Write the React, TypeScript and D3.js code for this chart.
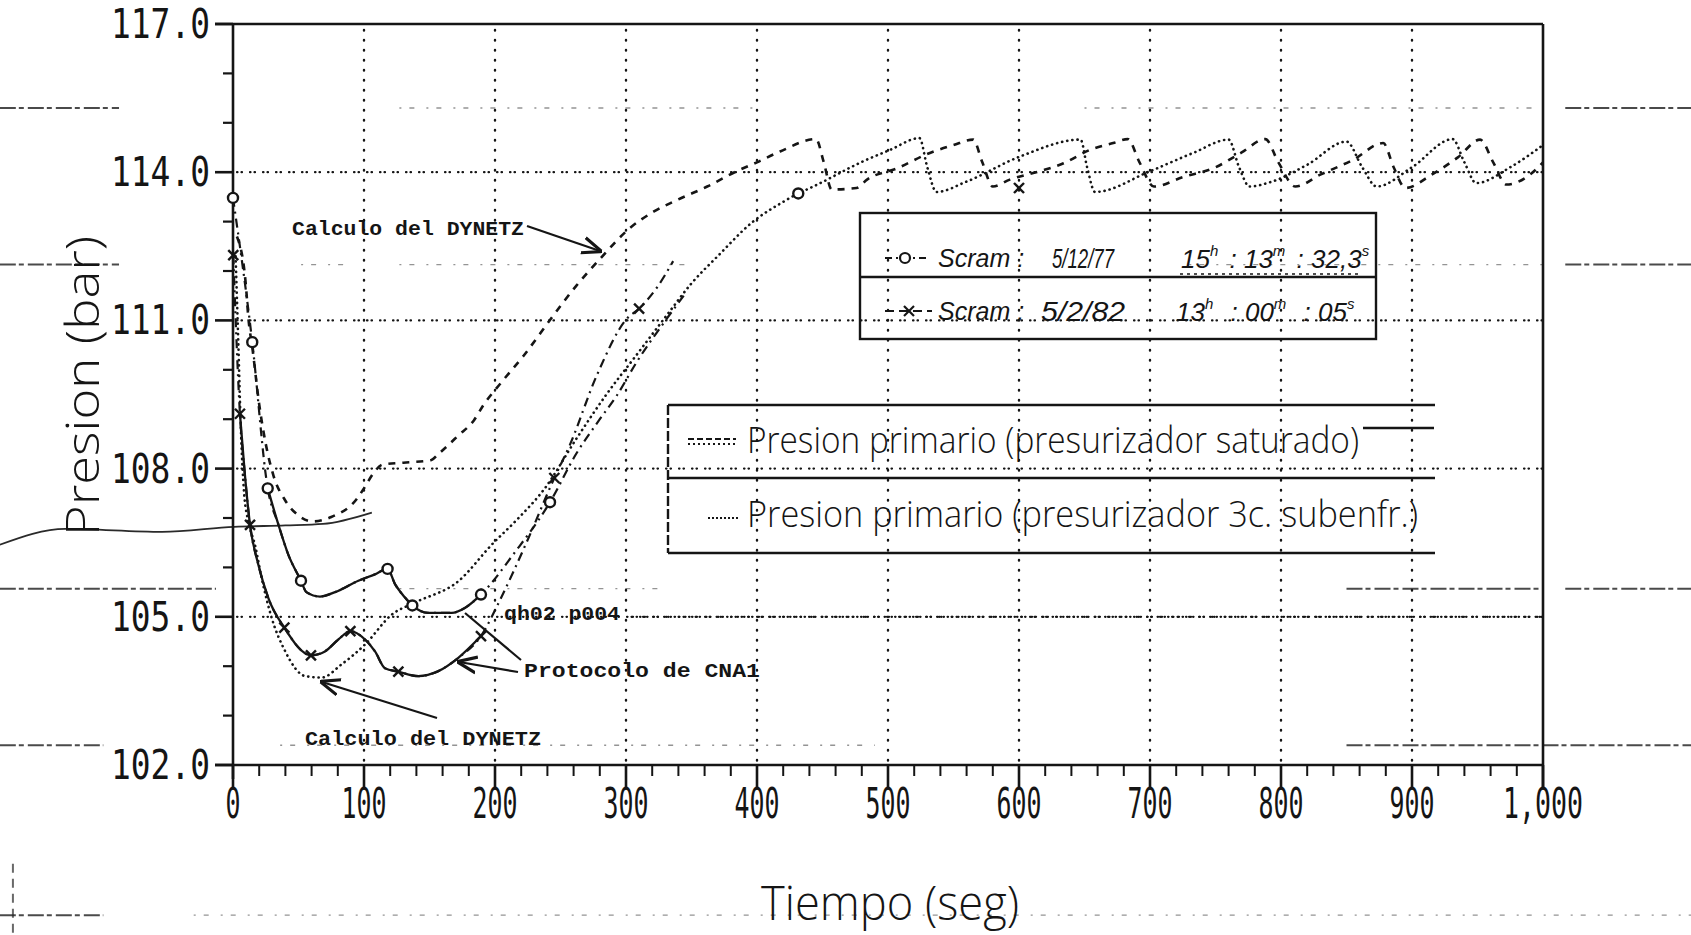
import React, { useEffect } from 'react';
import * as d3 from 'd3';

const W = 1691;
const H = 935;
const ink = '#151515';

// ---- axis ticks ----
const yTickValues = [102, 105, 108, 111, 114, 117];
const yTickLabels = ['102.0', '105.0', '108.0', '111.0', '114.0', '117.0'];
const xTickValues = [0, 100, 200, 300, 400, 500, 600, 700, 800, 900, 1000];
const xTickLabels = ['0', '100', '200', '300', '400', '500', '600', '700', '800', '900', '1,000'];

// ---- Calculo del DYNETZ, presurizador saturado (dashed) ----
const satT = [3, 9.7, 11.7, 15, 20, 25, 31, 40, 50, 61, 75, 94, 100, 107, 114, 130, 151, 157, 172, 184, 191, 205, 222, 244.5, 262, 280, 303, 321, 340, 362, 384.5, 400, 417.6, 445, 451, 457, 476, 484, 507, 532, 550, 565, 572, 580, 593, 616, 634, 654, 672, 683, 692, 703, 725, 750, 770, 788, 798, 811, 830, 855, 878, 886, 895, 915, 935, 952, 962, 972, 990, 1000];
const satP = [112.7, 111.75, 111.06, 110.4, 109.3, 108.5, 107.85, 107.35, 107.05, 106.93, 107.02, 107.37, 107.6, 107.9, 108.08, 108.12, 108.17, 108.3, 108.67, 108.98, 109.28, 109.75, 110.29, 111.1, 111.7, 112.24, 112.87, 113.2, 113.45, 113.71, 114.02, 114.2, 114.42, 114.67, 114.2, 113.65, 113.68, 113.85, 114.08, 114.39, 114.55, 114.66, 114.2, 113.71, 113.85, 114.02, 114.18, 114.45, 114.59, 114.67, 114.2, 113.71, 113.9, 114.1, 114.4, 114.67, 114.2, 113.71, 113.95, 114.25, 114.59, 114.1, 113.68, 113.95, 114.3, 114.66, 114.2, 113.75, 113.95, 114.2];

// ---- Calculo del DYNETZ, presurizador 3c. subenfr. (dotted) ----
const subT = [2, 4, 6, 8.5, 12, 16.8, 21.9, 29.5, 39.7, 55, 67.7, 83, 100.8, 121, 140, 172, 197.5, 218, 238, 262, 285, 308, 331, 350, 370, 397, 420, 431.5, 443, 481, 501.5, 524, 530, 537, 560, 601, 647, 652, 658, 700, 733, 760, 768, 776, 792, 820, 850, 862, 873, 900, 931, 940, 949, 975, 1000];
const subP = [112.3, 110.6, 108.8, 107.5, 106.9, 106.45, 105.78, 104.98, 104.31, 103.8, 103.77, 104.04, 104.44, 105.04, 105.3, 105.72, 106.46, 107.0, 107.6, 108.6, 109.5, 110.3, 111.1, 111.75, 112.3, 113.0, 113.4, 113.57, 113.71, 114.22, 114.45, 114.69, 114.1, 113.6, 113.81, 114.32, 114.66, 114.1, 113.6, 114.02, 114.39, 114.66, 114.1, 113.71, 113.8, 114.15, 114.62, 114.1, 113.71, 114.1, 114.67, 114.2, 113.78, 114.1, 114.55];

// ---- Protocolo CNA1, Scram 5/12/77 (circles) ----
const c77T = [0, 14.7, 26.5, 34.6, 42.2, 51.9, 56, 66.4, 77.9, 95.7, 108.4, 118, 123.7, 131.3, 136.9, 149, 167, 177, 189.3, 215, 242, 262, 280, 293, 308, 331, 344];
const c77P = [113.48, 110.56, 107.6, 106.87, 106.26, 105.73, 105.5, 105.41, 105.5, 105.73, 105.86, 105.97, 105.66, 105.39, 105.23, 105.08, 105.08, 105.18, 105.45, 106.3, 107.32, 108.3, 109.0, 109.48, 110.15, 111.03, 111.5];
const c77SolidFrom = 26.5;
const c77SolidTo = 189.3;
const c77MarkT = [0, 14.7, 26.5, 51.9, 118, 136.9, 189.3, 242, 431.5];
const c77MarkP = [113.48, 110.56, 107.6, 105.73, 105.97, 105.23, 105.45, 107.32, 113.57];

// ---- Protocolo CNA1, Scram 5/2/82 (crosses) ----
const x82T = [0.2, 5.3, 9, 13, 19.3, 27, 39.2, 59.5, 70.2, 80.4, 89.6, 100.8, 108.4, 116, 126.2, 141.5, 156.7, 172, 189.3, 204, 224, 245.3, 257, 277.6, 300.5, 310, 324, 336];
const x82P = [112.32, 109.11, 107.9, 106.86, 106.06, 105.38, 104.78, 104.22, 104.3, 104.54, 104.71, 104.54, 104.3, 103.96, 103.89, 103.8, 103.9, 104.17, 104.61, 105.35, 106.5, 107.81, 108.47, 109.88, 111.03, 111.24, 111.68, 112.2];
const x82SolidFrom = 5.3;
const x82SolidTo = 189.3;
const x82MarkT = [0.2, 5.3, 13, 39.2, 59.5, 89.6, 126.2, 189.3, 245.3, 310, 600];
const x82MarkP = [112.32, 109.11, 106.86, 104.78, 104.22, 104.71, 103.89, 104.61, 107.81, 111.24, 113.68];

// ---- scram legend texts ----
const scramDates = ['5/12/77', '5/2/82'];
const scramTimes = [
  [['15', 'h'], ['13', 'm'], ['32,3', 's']],
  [['13', 'h'], ['00', 'm'], ['05', 's']],
];

// ---- stray strokes of the scanned page (time, pressure units) ----
const strayT = [-178, -128, -54, 0.8, 40, 68.7, 106];
const strayP = [106.46, 106.78, 106.72, 106.82, 106.85, 106.88, 107.11];
const bleedRows = [
  [115.3, -178, -87, 1], [115.3, 127, 398, 0], [115.3, 650, 1000, 0], [115.3, 1017, 1128, 1],
  [112.13, -178, -87, 1], [112.13, 52, 93, 0], [112.13, 127, 350, 0], [112.13, 730, 1000, 0], [112.13, 1017, 1128, 1],
  [105.57, -178, -13, 1], [105.57, 127, 330, 0], [105.57, 850, 1000, 1], [105.57, 1017, 1128, 1],
  [102.4, -178, -99, 1], [102.4, 36, 490, 0], [102.4, 850, 1128, 1],
  [98.96, -178, -99, 1], [98.96, -30, 1128, 0],
];

const plotFont = '"DejaVu Sans Mono", monospace';
const thinFont = '"Open Sans", "DejaVu Sans", sans-serif';
const typeFont = '"Liberation Mono", "DejaVu Sans Mono", monospace';
const handFont = '"Liberation Sans", "DejaVu Sans", sans-serif';

function zip(ts: number[], ps: number[]) {
  return ts.map((t, i) => [t, ps[i]] as [number, number]);
}

export default function App() {
  useEffect(() => {
    document.body.style.margin = '0';
  }, []);

  const x = d3.scaleLinear().domain([0, 1000]).range([233, 1543]);
  const y = d3.scaleLinear().domain([102, 117]).range([765, 24]);

  const line = d3
    .line<[number, number]>()
    .x((d) => x(d[0]))
    .y((d) => y(d[1]))
    .curve(d3.curveMonotoneX);

  const sat = zip(satT, satP);
  const sub = zip(subT, subP);
  const c77 = zip(c77T, c77P);
  const x82 = zip(x82T, x82P);
  const c77Solid = c77.filter((d) => d[0] >= c77SolidFrom && d[0] <= c77SolidTo);
  const x82Solid = x82.filter((d) => d[0] >= x82SolidFrom && d[0] <= x82SolidTo);

  const x0 = x(0);
  const x1 = x(1000);
  const yTop = y(117);
  const yBot = y(102);

  const xMinor = d3.range(0, 1001, 20).filter((v) => v % 100 !== 0);
  const yMinor = d3.range(102, 118, 1).filter((v) => (v - 102) % 3 !== 0);
  const hGrid = [105, 108, 111, 114];
  const vGrid = [100, 200, 300, 400, 500, 600, 700, 800, 900];

  const rowBase = [268, 321];
  const dateX = [1052, 1041];
  const dateLen = [62, 84];
  const timeX = [1181, 1176];
  const timeGap = [4, 10];

  return (
    <svg
      width={W}
      height={H}
      viewBox={`0 0 ${W} ${H}`}
      style={{ position: 'absolute', left: 0, top: 0, display: 'block', background: '#ffffff' }}
    >
      <defs>
        <marker id="arr" viewBox="0 0 10 10" refX="9" refY="5" markerWidth="9" markerHeight="9" orient="auto">
          <path d="M0,1 L10,5 L0,9" fill="none" stroke={ink} strokeWidth="1.6" />
        </marker>
      </defs>
      <rect x={0} y={0} width={W} height={H} fill="#ffffff" />

      {/* bleed-through from the scanned page */}
      <g stroke="#2a2a2a" fill="none">
        {bleedRows.map((r, i) => (
          <line
            key={'b' + i}
            x1={x(r[1])}
            x2={x(r[2])}
            y1={y(r[0])}
            y2={y(r[0])}
            strokeWidth={r[3] ? 2 : 1.3}
            strokeDasharray={r[3] ? '16 3 5 4' : '2 8 5 12'}
            opacity={r[3] ? 0.85 : 0.5}
          />
        ))}
        <line x1={x(-168)} x2={x(-168)} y1={y(100)} y2={H} strokeWidth={2} strokeDasharray="9 6" opacity={0.7} />
        <path d={line(zip(strayT, strayP)) || ''} strokeWidth={1.8} />
      </g>

      {/* dotted grid */}
      <g stroke={ink} fill="none" strokeLinecap="round">
        {vGrid.map((v) => (
          <line key={'vg' + v} x1={x(v)} x2={x(v)} y1={yTop + 6} y2={yBot} strokeWidth={2.4} strokeDasharray="0.5 9.5" />
        ))}
        {hGrid.map((v) => (
          <line key={'hg' + v} x1={x0 + 4} x2={x1} y1={y(v)} y2={y(v)} strokeWidth={2.2} strokeDasharray="0.5 4 0.5 8" />
        ))}
        {/* qh02 p004 reference line */}
        <line x1={x(305)} x2={x1} y1={y(105)} y2={y(105)} strokeWidth={2.2} strokeDasharray="0.5 3.5 0.5 6" />
      </g>

      {/* frame and axes */}
      <g stroke={ink} fill="none" strokeWidth={2.6}>
        <line x1={x0 - 18} x2={x1} y1={yTop} y2={yTop} />
        <line x1={x1} x2={x1} y1={yTop} y2={yBot + 22} />
        <line x1={x0} x2={x0} y1={yTop} y2={yBot + 14} />
        <line x1={x0 - 18} x2={x1} y1={yBot} y2={yBot} />
        {yTickValues.map((v) => (
          <line key={'ytm' + v} x1={x0 - 18} x2={x0} y1={y(v)} y2={y(v)} />
        ))}
        {yMinor.map((v) => (
          <line key={'ytn' + v} x1={x0 - 10} x2={x0} y1={y(v)} y2={y(v)} strokeWidth={2.2} />
        ))}
        {xTickValues.map((v) => (
          <line key={'xtm' + v} x1={x(v)} x2={x(v)} y1={yBot} y2={yBot + 22} />
        ))}
        {xMinor.map((v) => (
          <line key={'xtn' + v} x1={x(v)} x2={x(v)} y1={yBot} y2={yBot + 11} strokeWidth={2} />
        ))}
      </g>

      {/* tick labels */}
      <g fill={ink} fontFamily={plotFont} fontSize={40}>
        {yTickValues.map((v, i) => (
          <text key={'yl' + v} x={210} y={y(v) + 14} textAnchor="end" textLength={99} lengthAdjust="spacingAndGlyphs">
            {yTickLabels[i]}
          </text>
        ))}
      </g>
      <g fill={ink} fontFamily={plotFont} fontSize={42}>
        {xTickValues.map((v, i) => {
          const s = xTickLabels[i];
          const len = s.length === 5 ? 80 : s.length * 15;
          return (
            <text key={'xl' + v} x={x(v) - len / 2} y={818} textLength={len} lengthAdjust="spacingAndGlyphs">
              {s}
            </text>
          );
        })}
      </g>

      {/* axis titles */}
      <text
        transform={`translate(99,386) rotate(-90)`}
        x={-150}
        y={0}
        fill={ink}
        fontFamily={thinFont}
        fontWeight={300}
        fontSize={46}
        textLength={300}
        lengthAdjust="spacingAndGlyphs"
      >
        Presion (bar)
      </text>
      <text x={761} y={920} fill={ink} fontFamily={thinFont} fontWeight={300} fontSize={48} textLength={258} lengthAdjust="spacingAndGlyphs">
        Tiempo (seg)
      </text>

      {/* series */}
      <g fill="none" stroke={ink} strokeLinecap="round">
        <path d={line(sat) || ''} strokeWidth={2.6} strokeDasharray="7 7" strokeLinecap="butt" />
        <path d={line(sub) || ''} strokeWidth={2.6} strokeDasharray="0.2 5" />
        <path d={line(c77) || ''} strokeWidth={2.2} strokeDasharray="9 5 2 5" strokeLinecap="butt" />
        <path d={line(c77Solid) || ''} strokeWidth={2.3} />
        <path d={line(x82) || ''} strokeWidth={2.2} strokeDasharray="9 5 2 5" strokeLinecap="butt" />
        <path d={line(x82Solid) || ''} strokeWidth={2.3} />
      </g>

      {/* markers */}
      <g stroke={ink} strokeWidth={2.4}>
        {c77MarkT.map((t, i) => (
          <circle key={'cm' + i} cx={x(t)} cy={y(c77MarkP[i])} r={5} fill="#ffffff" />
        ))}
        {x82MarkT.map((t, i) => {
          const cx = x(t);
          const cy = y(x82MarkP[i]);
          return (
            <g key={'xm' + i}>
              <line x1={cx - 5} x2={cx + 5} y1={cy - 5} y2={cy + 5} />
              <line x1={cx - 5} x2={cx + 5} y1={cy + 5} y2={cy - 5} />
            </g>
          );
        })}
      </g>

      {/* annotations */}
      <g fill={ink} fontFamily={typeFont} fontSize={21} fontWeight="bold">
        <text x={292} y={235} textLength={232} lengthAdjust="spacingAndGlyphs">Calculo del DYNETZ</text>
        <text x={305} y={745} textLength={236} lengthAdjust="spacingAndGlyphs">Calculo del DYNETZ</text>
        <text x={504} y={620} textLength={116} lengthAdjust="spacingAndGlyphs">qh02 p004</text>
        <text x={524} y={677} textLength={236} lengthAdjust="spacingAndGlyphs">Protocolo de CNA1</text>
      </g>
      <g stroke={ink} strokeWidth={2.2} fill="none">
        <line x1={527} y1={226} x2={600} y2={251} markerEnd="url(#arr)" />
        <line x1={437} y1={718} x2={322} y2={682} markerEnd="url(#arr)" />
        <line x1={521} y1={660} x2={465} y2={613} />
        <line x1={518} y1={672} x2={459} y2={662} markerEnd="url(#arr)" />
      </g>

      {/* legend: scram dates */}
      <g stroke={ink} fill="none" strokeWidth={2.4}>
        <rect x={860} y={213} width={516} height={126} />
        <line x1={860} x2={1376} y1={277} y2={277} />
      </g>
      <g stroke={ink} strokeWidth={2.2} fill="none">
        <line x1={885} x2={928} y1={258} y2={258} strokeDasharray="7 4 2 4" />
        <circle cx={905} cy={258} r={5} fill="#ffffff" />
        <line x1={885} x2={932} y1={311} y2={311} strokeDasharray="9 5" />
        <line x1={904} x2={914} y1={306} y2={316} />
        <line x1={904} x2={914} y1={316} y2={306} />
        <line x1={1180} x2={1362} y1={274} y2={274} strokeDasharray="3 4" strokeWidth={1.6} />
      </g>
      <g fill={ink} fontFamily={handFont} fontStyle="italic">
        {[0, 1].map((r) => (
          <g key={'sr' + r}>
            <text x={938} y={rowBase[r] - 1} fontSize={25}>Scram :</text>
            <text x={dateX[r]} y={rowBase[r]} fontSize={28} textLength={dateLen[r]} lengthAdjust="spacingAndGlyphs">
              {scramDates[r]}
            </text>
            <text x={timeX[r]} y={rowBase[r]} fontSize={26}>
              {scramTimes[r].map((piece, k) => (
                <React.Fragment key={'tp' + k}>
                  <tspan dx={k > 0 ? timeGap[r] : 0} dy={k > 0 ? 12 : 0}>{(k > 0 ? ' : ' : '') + piece[0]}</tspan>
                  <tspan dy={-12} fontSize={15}>{piece[1]}</tspan>
                </React.Fragment>
              ))}
            </text>
          </g>
        ))}
      </g>

      {/* legend: DYNETZ curves */}
      <g stroke={ink} fill="none" strokeWidth={2.4}>
        <line x1={668} x2={1435} y1={405} y2={405} />
        <line x1={668} x2={1435} y1={478} y2={478} />
        <line x1={668} x2={1435} y1={553} y2={553} />
        <line x1={668} x2={668} y1={405} y2={553} strokeDasharray="10 3" />
        <line x1={688} x2={736} y1={439} y2={439} strokeDasharray="6 3" strokeWidth={2} />
        <line x1={688} x2={736} y1={444} y2={444} strokeDasharray="2 3" strokeWidth={2} />
        <line x1={1363} x2={1434} y1={428} y2={428} />
        <line x1={708} x2={740} y1={518} y2={518} strokeDasharray="2 2" strokeWidth={2} />
      </g>
      <g fill={ink} fontFamily={thinFont} fontWeight={300} fontSize={36}>
        <text x={747} y={453} textLength={612} lengthAdjust="spacingAndGlyphs">Presion primario (presurizador saturado)</text>
        <text x={747} y={527} textLength={671} lengthAdjust="spacingAndGlyphs">Presion primario (presurizador 3c. subenfr.)</text>
      </g>
    </svg>
  );
}
